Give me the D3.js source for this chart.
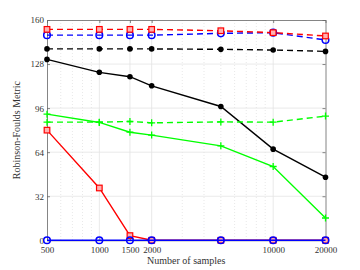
<!DOCTYPE html>
<html><head><meta charset="utf-8">
<script src="https://cdn.jsdelivr.net/npm/d3@7"></script>
<style>body{margin:0;background:#fff}svg{display:block}text{font-family:"Liberation Serif","DejaVu Serif",serif;fill:#333}</style>
</head><body><svg id="c" width="360" height="270"></svg>
<script>
const samples = [500, 1000, 1500, 2000, 5000, 10000, 20000];
const xTicks = [500, 1000, 1500, 2000, 10000, 20000];
const yTicks = [0, 32, 64, 96, 128, 160];
const redDashed   = [153.2, 153.2, 153.2, 153.2, 152.2, 150.8, 148.4];
const blueDashed  = [149, 149, 149, 149, 150.3, 150.8, 145.5];
const blackDashed = [139, 139, 139, 139, 138.7, 138.2, 137.2];
const blackSolid  = [131.4, 122, 118.8, 112.2, 97.2, 66.2, 45.8];
const greenDashed = [85.8, 85.8, 86.3, 85.3, 86, 85.8, 90.2];
const greenSolid  = [91.6, 85.6, 78.5, 76.4, 68.6, 53.6, 16.2];
const redSolid    = [80, 38, 3.4, 0, 0, 0, 0];
const blueSolid   = [0, 0, 0, 0, 0, 0, 0];

const series = [
  {v: redSolid, c: "#ff0000", dash: null, m: "square"},
  {v: blueSolid, c: "#0000ff", dash: null, m: "circle"},
  {v: greenSolid, c: "#00ff00", dash: null, m: "plus"},
  {v: blackSolid, c: "#000000", dash: null, m: "dot"},
  {v: greenDashed, c: "#00ff00", dash: "6,4", m: "plus"},
  {v: blackDashed, c: "#000000", dash: "6,4", m: "dot"},
  {v: blueDashed, c: "#0000ff", dash: "6,4", m: "circle"},
  {v: redDashed, c: "#ff0000", dash: "6,4", m: "square"}
];

const L = 47, R = 325.5, T = 20, B = 240.3;
const svg = d3.select("#c");
const x = d3.scaleLog().domain([500, 20000]).range([L, R]);
const y = d3.scaleLinear().domain([0, 160]).range([B, T]);

// grid
const minor = [];
[100, 1000, 10000].forEach(d => { for (let k = 2; k <= 9; k++) { const v = d * k; if (v > 500 && v < 20000 && !xTicks.includes(v)) minor.push(v); } });
svg.append("g").selectAll("line").data(minor).join("line")
  .attr("x1", d => x(d)).attr("x2", d => x(d)).attr("y1", T).attr("y2", B)
  .attr("stroke", "#d8d8d8").attr("stroke-width", 0.6).attr("stroke-dasharray", "1,2");
svg.append("g").selectAll("line").data(xTicks.slice(1, -1)).join("line")
  .attr("x1", d => x(d)).attr("x2", d => x(d)).attr("y1", T).attr("y2", B)
  .attr("stroke", "#e3e3e3").attr("stroke-width", 0.8);
svg.append("g").selectAll("line").data(yTicks.slice(1, -1)).join("line")
  .attr("y1", d => y(d)).attr("y2", d => y(d)).attr("x1", L).attr("x2", R)
  .attr("stroke", "#e3e3e3").attr("stroke-width", 0.8);

// axes
const fmt = d3.format("d");
svg.append("g").attr("transform", `translate(0,${B})`)
  .call(d3.axisBottom(x).tickValues(xTicks).tickFormat(fmt).tickSizeInner(-3).tickSizeOuter(0).tickPadding(6));
svg.append("g").attr("transform", `translate(${L},0)`)
  .call(d3.axisLeft(y).tickValues(yTicks).tickFormat(fmt).tickSizeInner(-3).tickSizeOuter(0).tickPadding(3));
svg.append("g").attr("transform", `translate(0,${T})`)
  .call(d3.axisTop(x).tickValues(xTicks).tickFormat("").tickSizeInner(-3).tickSizeOuter(0));
svg.append("g").attr("transform", `translate(${R},0)`)
  .call(d3.axisRight(y).tickValues(yTicks).tickFormat("").tickSizeInner(-3).tickSizeOuter(0));
svg.selectAll(".domain").attr("stroke", "#666").attr("stroke-width", 0.8);
svg.selectAll(".tick line").attr("stroke", "#666").attr("stroke-width", 0.8);
svg.selectAll(".tick text").style("font-size", "9px").style("font-family", "Liberation Serif").attr("fill", "#333");

// lines
const line = d3.line().x((d, i) => x(samples[i])).y(d => y(d));
series.forEach(s => {
  svg.append("path").datum(s.v).attr("d", line).attr("fill", "none")
    .attr("stroke", s.c).attr("stroke-width", 1.4).attr("stroke-dasharray", s.dash);
  const g = svg.append("g");
  s.v.forEach((d, i) => {
    const px = x(samples[i]), py = y(d);
    if (s.m === "square") g.append("rect").attr("x", px - 2.8).attr("y", py - 2.8).attr("width", 5.6).attr("height", 5.6)
      .attr("fill", "#ffb0b0").attr("stroke", s.c).attr("stroke-width", 1.2);
    else if (s.m === "circle") g.append("circle").attr("cx", px).attr("cy", py).attr("r", 3.3)
      .attr("fill", "none").attr("stroke", s.c).attr("stroke-width", 1.5);
    else if (s.m === "dot") g.append("circle").attr("cx", px).attr("cy", py).attr("r", 2.8).attr("fill", s.c);
    else if (s.m === "plus") g.append("path").attr("d", `M${px - 3.5},${py}H${px + 3.5}M${px},${py - 3.5}V${py + 3.5}`)
      .attr("stroke", s.c).attr("stroke-width", 1.3);
  });
});

// labels
svg.append("text").attr("x", (L + R) / 2).attr("y", 264).attr("text-anchor", "middle")
  .style("font-size", "10px").text("Number of samples");
svg.append("text").attr("transform", `translate(20,${(T + B) / 2}) rotate(-90)`).attr("text-anchor", "middle")
  .style("font-size", "10px").text("Robinson-Foulds Metric");
</script></body></html>
